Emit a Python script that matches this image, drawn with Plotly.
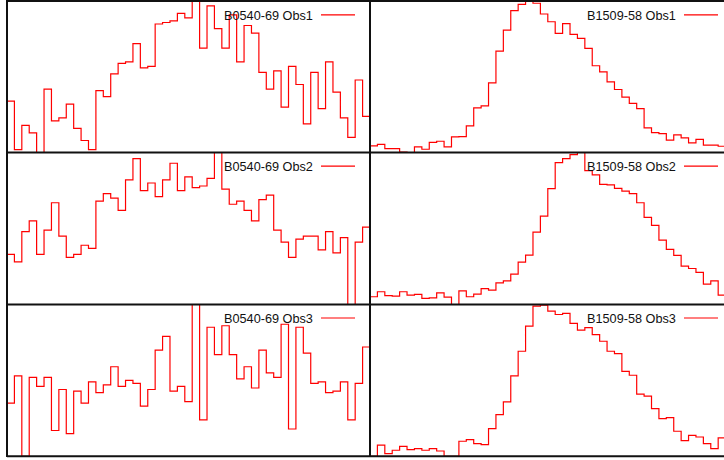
import plotly.graph_objects as go

# Light-curve histograms (49 phase bins per observation), normalised so each
# panel's vertical range runs 0..100.
b0540_obs1 = [34, 2, 18, 13, 0, 42, 21, 23, 32, 16, 8, 2, 41, 37, 52, 59, 60, 72, 56, 57,
              85, 86, 87, 92, 89, 104, 69, 97, 82, 69, 91, 60, 84, 79, 53, 42, 54, 30, 57, 45,
              19, 53, 29, 60, 40, 23, 10, 48, 24]
b0540_obs2 = [33, 28, 48, 55, 33, 49, 67, 45, 31, 33, 39, 37, 68, 73, 70, 62, 82, 96, 75, 80,
              71, 82, 93, 75, 84, 77, 78, 83, 102, 76, 66, 68, 62, 55, 69, 72, 49, 41, 31, 43,
              45, 45, 36, 48, 34, 44, 0, 41, 51]
b0540_obs3 = [35, 53, 0, 52, 46, 52, 17, 44, 15, 43, 35, 49, 42, 47, 59, 46, 50, 48, 33, 44,
              70, 79, 43, 46, 36, 103, 24, 85, 67, 86, 67, 51, 59, 45, 70, 55, 52, 87, 18, 85,
              68, 48, 49, 42, 43, 49, 24, 48, 72]
b1509_obs1 = [4.4, 5.5, 2.6, 2.6, 0.4, 0.0, 3.8, 2.2, 6.8, 7.5, 3.8, 10.4, 10.6, 17.7, 29.6,
              30.9, 46.1, 67.1, 81.0, 93.8, 98.0, 100.0, 98.7, 91.6, 86.5, 78.8, 85.2, 78.1,
              75.5, 68.9, 57.4, 53.4, 46.8, 41.7, 36.6, 32.5, 29.1, 16.3, 13.2, 12.6, 8.2,
              11.7, 9.7, 6.4, 8.8, 4.9, 4.9, 4.2]
b1509_obs2 = [5.1, 8.4, 5.9, 5.5, 8.4, 6.2, 6.6, 4.0, 4.4, 7.7, 4.8, 0.0, 9.0, 5.1, 6.8,
              10.5, 9.5, 14.3, 15.6, 20.0, 27.9, 32.5, 47.7, 58.2, 76.3, 93.4, 96.0, 98.7,
              101.0, 88.1, 85.3, 79.1, 78.7, 76.5, 74.7, 73.0, 67.0, 57.4, 52.1, 42.4, 36.3,
              32.3, 25.3, 23.7, 21.1, 13.4, 15.6, 6.2]
b1509_obs3 = [0.0, 7.3, 1.8, 4.0, 6.6, 4.4, 5.1, 4.0, 5.1, 3.5, 0.0, 0.0, 9.9, 11.0, 8.4,
              7.7, 18.2, 27.5, 35.8, 53.0, 69.2, 85.7, 98.9, 99.6, 95.6, 93.4, 94.1, 87.5,
              83.1, 84.8, 80.2, 75.8, 69.2, 67.7, 56.0, 53.4, 40.9, 39.6, 31.4, 24.8, 25.5,
              16.5, 10.3, 13.8, 12.7, 8.4, 5.1, 12.1]

labels = ["B0540-69 Obs1", "B1509-58 Obs1",
          "B0540-69 Obs2", "B1509-58 Obs2",
          "B0540-69 Obs3", "B1509-58 Obs3"]
series = [b0540_obs1, b1509_obs1, b0540_obs2, b1509_obs2, b0540_obs3, b1509_obs3]

W, H = 724, 460
N_BINS = 49
RED = "#ff0000"

# pixel geometry of the 3x2 grid
col_px = [(7, 370), (370, 724)]
row_px = [(1.3, 152.6), (152.6, 304.5), (304.5, 456.3)]
# the right column is as wide as the left one but runs off the page edge
col_xmax = [N_BINS, N_BINS * (724 - 370) / (370 - 7)]


def px_x(p):
    return p / W


def px_y(p):
    return 1 - p / H


fig = go.Figure()
layout = {}
for i, (name, vals) in enumerate(zip(labels, series)):
    r, c = divmod(i, 2)
    k = "" if i == 0 else str(i + 1)
    edges = list(range(len(vals) + 1))
    fig.add_trace(go.Scatter(
        x=edges, y=list(vals) + [vals[-1]],
        mode="lines", line=dict(color=RED, width=1.2, shape="hv"),
        xaxis="x" + k, yaxis="y" + k, showlegend=False, hoverinfo="skip",
    ))
    x0, x1 = col_px[c]
    y0, y1 = row_px[r]
    layout["xaxis" + k] = dict(domain=[px_x(x0), px_x(x1)], range=[0, col_xmax[c]],
                              showticklabels=False, showgrid=False, zeroline=False,
                              showline=False, ticks="", anchor="y" + k)
    layout["yaxis" + k] = dict(domain=[px_y(y1), px_y(y0)], range=[0, 100],
                              showticklabels=False, showgrid=False, zeroline=False,
                              showline=False, ticks="", anchor="x" + k)

fig.update_layout(**layout)

shapes = []
annotations = []
frame = dict(color="#111111", width=2)
# frame and grid dividers
for yp in [1.0, 152.6, 304.5, 456.3]:
    shapes.append(dict(type="line", xref="paper", yref="paper",
                       x0=px_x(7), x1=1.0, y0=px_y(yp), y1=px_y(yp), line=frame, layer="above"))
for xp in [7, 370]:
    shapes.append(dict(type="line", xref="paper", yref="paper",
                       x0=px_x(xp), x1=px_x(xp), y0=px_y(0), y1=px_y(457), line=frame, layer="above"))

# key entries: label followed by a short sample of the line
key_text_right = [315, 678]
key_line = [(321, 355), (684, 718)]
for i, name in enumerate(labels):
    r, c = divmod(i, 2)
    yc = row_px[r][0] + 13.5
    annotations.append(dict(xref="paper", yref="paper", x=px_x(key_text_right[c]),
                            y=px_y(yc + 1.2), xanchor="right", yanchor="middle",
                            text=name, showarrow=False,
                            font=dict(family="Liberation Sans, Arial, sans-serif",
                                      size=12.7, color="#111111")))
    shapes.append(dict(type="line", xref="paper", yref="paper",
                       x0=px_x(key_line[c][0]), x1=px_x(key_line[c][1]),
                       y0=px_y(yc), y1=px_y(yc), line=dict(color=RED, width=1.2)))

fig.update_layout(
    width=W, height=H, margin=dict(l=0, r=0, t=0, b=0),
    paper_bgcolor="white", plot_bgcolor="white",
    shapes=shapes, annotations=annotations, showlegend=False,
)

fig.write_html("out.html")
